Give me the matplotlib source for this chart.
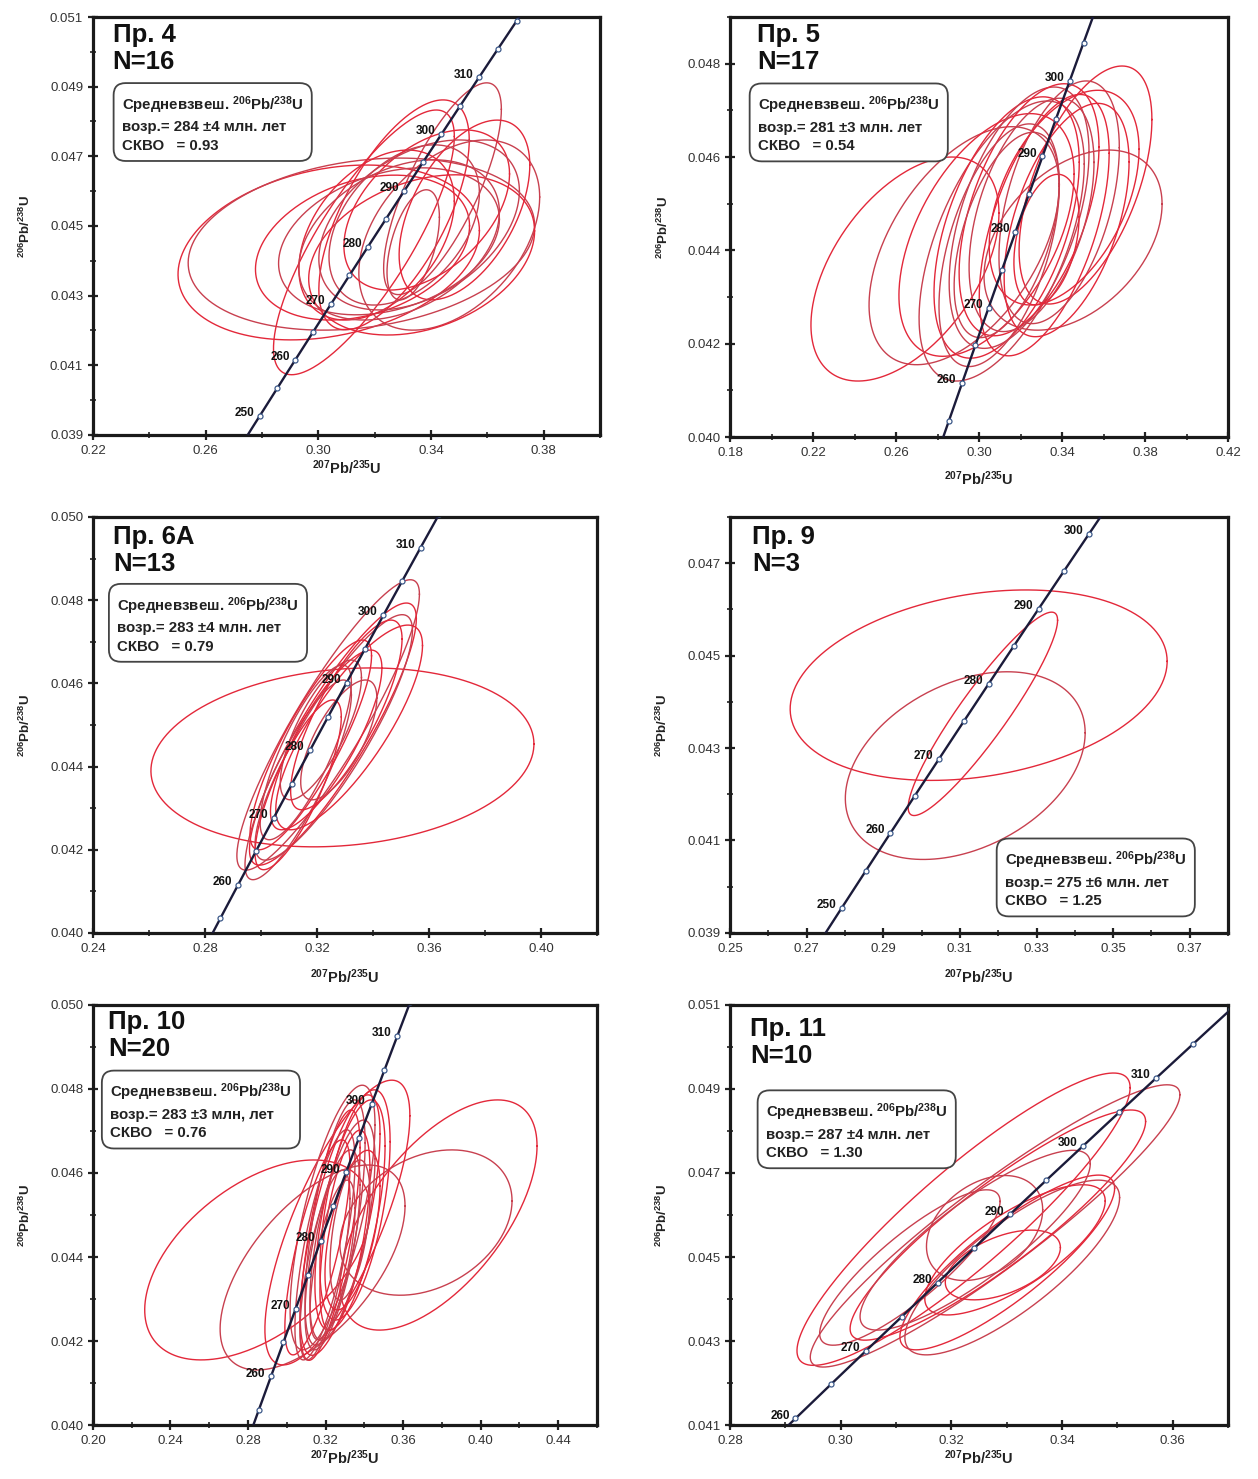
import numpy as np
import matplotlib
matplotlib.use('Agg')
import matplotlib.pyplot as plt
from matplotlib.ticker import MultipleLocator, FormatStrFormatter

plt.rcParams['font.family'] = ['Liberation Sans', 'DejaVu Sans']
plt.rcParams['mathtext.fontset'] = 'custom'
plt.rcParams['mathtext.rm'] = 'Liberation Sans'
plt.rcParams['mathtext.bf'] = 'Liberation Sans:bold'
plt.rcParams['mathtext.default'] = 'regular'

# decay constants (1/Ma)
L238 = 1.55125e-4
L235 = 9.8485e-4

titles = ['Пр. 4', 'Пр. 5', 'Пр. 6А', 'Пр. 9', 'Пр. 10', 'Пр. 11']
n_labels = ['N=16', 'N=17', 'N=13', 'N=3', 'N=20', 'N=10']
wm_ages = ['284 ±4', '281 ±3', '283 ±4', '275 ±6', '283 ±3', '287 ±4']
wm_units = ['млн. лет', 'млн. лет', 'млн. лет', 'млн. лет', 'млн, лет', 'млн. лет']
mswd = ['0.93', '0.54', '0.79', '1.25', '0.76', '1.30']

xlims = [(0.22, 0.40), (0.18, 0.42), (0.24, 0.42), (0.25, 0.38), (0.20, 0.46), (0.28, 0.37)]
ylims = [(0.039, 0.051), (0.040, 0.049), (0.040, 0.050), (0.039, 0.048), (0.040, 0.050), (0.041, 0.051)]
x_major = [0.04, 0.04, 0.04, 0.02, 0.04, 0.02]
x_first = [0.22, 0.18, 0.24, 0.25, 0.20, 0.28]
y_first = [0.039, 0.040, 0.040, 0.039, 0.040, 0.041]

label_ages = [
    [250, 260, 270, 280, 290, 300, 310],
    [260, 270, 280, 290, 300],
    [260, 270, 280, 290, 300, 310],
    [250, 260, 270, 280, 290, 300],
    [260, 270, 280, 290, 300, 310],
    [260, 270, 280, 290, 300, 310],
]
marker_ages = list(range(240, 335, 5))

# ellipses: (center 207/235, center 206/238, half-width, half-height, correlation)
ell_4 = [
    (0.3037, 0.04424, 0.0535, 0.00251, 0.25),
    (0.3153, 0.04448, 0.0615, 0.00247, 0.22),
    (0.3157, 0.04438, 0.0380, 0.00208, 0.30),
    (0.3251, 0.04456, 0.0392, 0.00211, 0.30),
    (0.3162, 0.04453, 0.0321, 0.00380, 0.80),
    (0.3441, 0.04607, 0.0209, 0.00304, 0.75),
    (0.3269, 0.04532, 0.0267, 0.00330, 0.65),
    (0.3465, 0.04474, 0.0321, 0.00273, 0.40),
    (0.3367, 0.04417, 0.0401, 0.00230, 0.30),
    (0.3337, 0.04446, 0.0093, 0.00158, 0.50),
    (0.3207, 0.04474, 0.0276, 0.00244, 0.40),
    (0.3305, 0.04503, 0.0267, 0.00230, 0.40),
    (0.3385, 0.04546, 0.0294, 0.00230, 0.45),
    (0.3287, 0.04460, 0.0356, 0.00230, 0.35),
    (0.3519, 0.04546, 0.0232, 0.00258, 0.50),
    (0.3358, 0.04503, 0.0356, 0.00244, 0.40),
]
ell_5 = [
    (0.2643, 0.04360, 0.0453, 0.00240, 0.50),
    (0.3453, 0.04422, 0.0429, 0.00193, 0.40),
    (0.3513, 0.04540, 0.0320, 0.00255, 0.55),
    (0.2928, 0.04410, 0.0458, 0.00255, 0.50),
    (0.3036, 0.04433, 0.0422, 0.00260, 0.50),
    (0.3109, 0.04420, 0.0398, 0.00300, 0.55),
    (0.3133, 0.04449, 0.0350, 0.00280, 0.50),
    (0.3193, 0.04470, 0.0337, 0.00280, 0.50),
    (0.3241, 0.04487, 0.0337, 0.00270, 0.50),
    (0.3253, 0.04476, 0.0301, 0.00250, 0.45),
    (0.3314, 0.04454, 0.0313, 0.00280, 0.55),
    (0.3386, 0.04503, 0.0290, 0.00260, 0.45),
    (0.3410, 0.04513, 0.0361, 0.00230, 0.45),
    (0.3097, 0.04411, 0.0290, 0.00260, 0.50),
    (0.3325, 0.04423, 0.0157, 0.00140, 0.35),
    (0.3133, 0.04433, 0.0253, 0.00220, 0.50),
    (0.3422, 0.04465, 0.0301, 0.00250, 0.50),
]
ell_6a = [
    (0.3291, 0.04422, 0.0684, 0.00215, 0.15),
    (0.3240, 0.04500, 0.0326, 0.00349, 0.90),
    (0.3257, 0.04478, 0.0298, 0.00315, 0.88),
    (0.3260, 0.04470, 0.0281, 0.00295, 0.87),
    (0.3315, 0.04494, 0.0262, 0.00246, 0.80),
    (0.3133, 0.04368, 0.0190, 0.00240, 0.85),
    (0.3178, 0.04452, 0.0217, 0.00252, 0.85),
    (0.3160, 0.04434, 0.0163, 0.00210, 0.80),
    (0.3233, 0.04464, 0.0199, 0.00216, 0.80),
    (0.3214, 0.04488, 0.0145, 0.00168, 0.75),
    (0.3305, 0.04524, 0.0199, 0.00228, 0.80),
    (0.3278, 0.04464, 0.0136, 0.00144, 0.70),
    (0.3133, 0.04356, 0.0154, 0.00204, 0.80),
]
ell_9 = [
    (0.3149, 0.04436, 0.0492, 0.00206, 0.25),
    (0.3114, 0.04262, 0.0313, 0.00203, 0.35),
    (0.3160, 0.04374, 0.0195, 0.00220, 0.92),
]
ell_10 = [
    (0.2848, 0.04393, 0.0581, 0.00238, 0.50),
    (0.3133, 0.04375, 0.0477, 0.00244, 0.60),
    (0.3783, 0.04500, 0.0508, 0.00274, 0.60),
    (0.3718, 0.04482, 0.0444, 0.00173, 0.30),
    (0.3261, 0.04482, 0.0374, 0.00339, 0.75),
    (0.3236, 0.04494, 0.0219, 0.00315, 0.70),
    (0.3275, 0.04476, 0.0206, 0.00310, 0.70),
    (0.3249, 0.04482, 0.0155, 0.00292, 0.65),
    (0.3223, 0.04452, 0.0155, 0.00298, 0.70),
    (0.3287, 0.04464, 0.0168, 0.00262, 0.65),
    (0.3326, 0.04500, 0.0181, 0.00274, 0.60),
    (0.3197, 0.04429, 0.0155, 0.00274, 0.72),
    (0.3352, 0.04524, 0.0181, 0.00274, 0.55),
    (0.3236, 0.04417, 0.0142, 0.00238, 0.65),
    (0.3300, 0.04464, 0.0129, 0.00238, 0.60),
    (0.3197, 0.04381, 0.0129, 0.00226, 0.70),
    (0.3339, 0.04464, 0.0142, 0.00190, 0.55),
    (0.3236, 0.04393, 0.0116, 0.00190, 0.65),
    (0.3158, 0.04423, 0.0168, 0.00256, 0.75),
    (0.3326, 0.04464, 0.0103, 0.00167, 0.50),
]
ell_11 = [
    (0.3222, 0.04590, 0.0301, 0.00348, 0.90),
    (0.3279, 0.04574, 0.0334, 0.00336, 0.93),
    (0.3284, 0.04576, 0.0267, 0.00274, 0.90),
    (0.3260, 0.04569, 0.0105, 0.00125, 0.35),
    (0.3301, 0.04487, 0.0194, 0.00208, 0.85),
    (0.3310, 0.04475, 0.0194, 0.00208, 0.80),
    (0.3315, 0.04517, 0.0163, 0.00155, 0.75),
    (0.3125, 0.04475, 0.0163, 0.00185, 0.85),
    (0.3293, 0.04481, 0.0104, 0.00083, 0.50),
    (0.3243, 0.04540, 0.0208, 0.00214, 0.85),
]
ellipse_sets = [ell_4, ell_5, ell_6a, ell_9, ell_10, ell_11]

# layout (figure fractions)
positions = [
    [0.0739, 0.7059, 0.4030, 0.2826],
    [0.5803, 0.7045, 0.3959, 0.2840],
    [0.0739, 0.3692, 0.4006, 0.2813],
    [0.5803, 0.3692, 0.3959, 0.2813],
    [0.0739, 0.0365, 0.4006, 0.2840],
    [0.5803, 0.0365, 0.3959, 0.2840],
]
title_xy = [(0.039, 0.985), (0.054, 0.985), (0.040, 0.980), (0.044, 0.980), (0.030, 0.987), (0.040, 0.972)]
box_xy = [(0.057, 0.815), (0.056, 0.815), (0.048, 0.812), (0.552, 0.200), (0.034, 0.817), (0.072, 0.770)]
xlabel_pad = [1, 8, 9, 9, 1, 1]

ell_colors = ['#e3283a', '#c8404f']

fig = plt.figure(figsize=(12.58, 14.79), dpi=100)

t_dense = np.linspace(200, 360, 800)

for i in range(6):
    ax = fig.add_axes(positions[i])
    ax.set_xlim(*xlims[i])
    ax.set_ylim(*ylims[i])

    th = np.linspace(0, 2 * np.pi, 300)
    for k, (cx, cy, hx, hy, r) in enumerate(ellipse_sets[i]):
        ex = cx + hx * np.cos(th)
        ey = cy + hy * (r * np.cos(th) + np.sqrt(1 - r * r) * np.sin(th))
        ax.plot(ex, ey, color=ell_colors[k % 2], lw=1.0, zorder=2)

    # concordia
    cxv = np.exp(L235 * t_dense) - 1
    cyv = np.exp(L238 * t_dense) - 1
    ax.plot(cxv, cyv, color='#1b1b3a', lw=1.7, zorder=3)
    ma = np.array(marker_ages, dtype=float)
    ax.plot(np.exp(L235 * ma) - 1, np.exp(L238 * ma) - 1, 'o', ms=3.6,
            mfc='white', mec='#3d5a8a', mew=0.9, zorder=4)
    for a in label_ages[i]:
        ax.annotate(str(a), (np.exp(L235 * a) - 1, np.exp(L238 * a) - 1),
                    xytext=(-4, 2), textcoords='offset points', ha='right',
                    va='center', fontsize=8.5, fontweight='bold', color='#111',
                    zorder=5)

    # ticks
    ax.xaxis.set_minor_locator(MultipleLocator(x_major[i] / 2))
    ax.yaxis.set_minor_locator(MultipleLocator(0.001))
    xt = np.arange(x_first[i], xlims[i][1] + 1e-9, x_major[i])
    yt = np.arange(y_first[i], ylims[i][1] + 1e-9, 0.002)
    ax.set_xticks(xt)
    ax.set_yticks(yt)
    ax.xaxis.set_major_formatter(FormatStrFormatter('%.2f'))
    ax.yaxis.set_major_formatter(FormatStrFormatter('%.3f'))
    ax.tick_params(which='major', direction='inout', length=7, width=1.6,
                   labelsize=9.5, labelcolor='#333', color='#222')
    ax.tick_params(which='minor', direction='inout', length=4, width=1.2, color='#222')
    for s in ax.spines.values():
        s.set_linewidth(2.3)
        s.set_color('#1a1a1a')

    ax.set_xlabel(r'$^{\mathbf{207}}$Pb/$^{\mathbf{235}}$U', fontsize=10.5,
                  fontweight='bold', color='#222', labelpad=xlabel_pad[i])
    ax.set_ylabel(r'$^{\mathbf{206}}$Pb/$^{\mathbf{238}}$U', fontsize=9.5,
                  fontweight='bold', color='#222', labelpad=12)

    tx, ty = title_xy[i]
    ax.text(tx, ty, titles[i] + '\n' + n_labels[i], transform=ax.transAxes,
            ha='left', va='top', fontsize=18.5, fontweight='bold', color='#111',
            linespacing=1.15, zorder=6)

    bx, by = box_xy[i]
    box_txt = ('Средневзвеш. $^{206}$Pb/$^{238}$U\n'
               'возр.= ' + wm_ages[i] + ' ' + wm_units[i] + '\n'
               'СКВО   = ' + mswd[i])
    ax.text(bx, by, box_txt, transform=ax.transAxes, ha='left', va='top',
            fontsize=10.8, fontweight='bold', color='#222', linespacing=1.4,
            zorder=7,
            bbox=dict(boxstyle='round,pad=0.55,rounding_size=0.8', fc='white',
                      ec='#444', lw=1.3))

fig.savefig('out.png', dpi=100, facecolor='white')
